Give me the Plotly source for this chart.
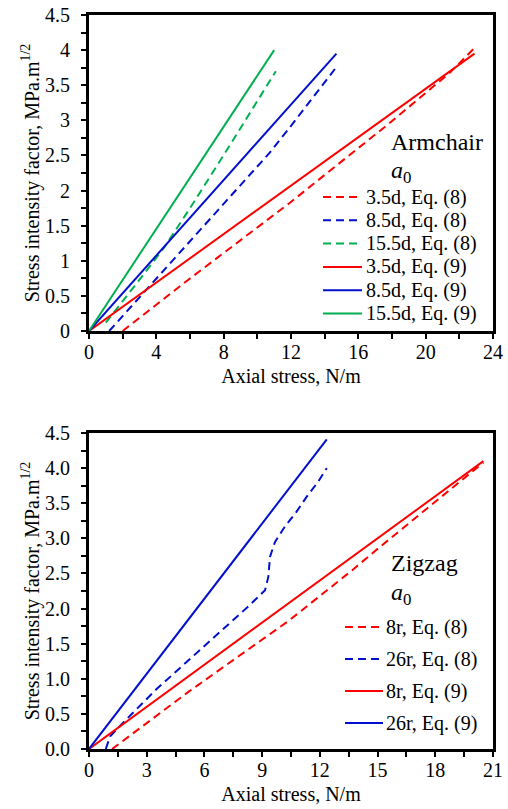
import plotly.graph_objects as go

W, H = 508, 809

# ---------------- data ----------------
# Armchair (top panel)
arm_35_eq8_x = [2.0, 5.9, 11.9, 14.85, 17.8, 21.4, 22.9]
arm_35_eq8_y = [0.0, 0.73, 1.82, 2.38, 2.95, 3.67, 4.03]
arm_85_eq8_x = [1.2, 5.9, 10.7, 11.9, 14.7]
arm_85_eq8_y = [0.0, 1.25, 2.53, 2.89, 3.76]
arm_155_eq8_x = [1.0, 2.0, 3.0, 4.5, 6.0, 8.2, 11.1]
arm_155_eq8_y = [0.12, 0.42, 0.73, 1.2, 1.75, 2.58, 3.70]
arm_35_eq9_x = [0.0, 22.9]
arm_35_eq9_y = [0.0, 3.95]
arm_85_eq9_x = [0.0, 14.7]
arm_85_eq9_y = [0.0, 3.95]
arm_155_eq9_x = [0.0, 11.0]
arm_155_eq9_y = [0.0, 4.0]
arm_labels = ["3.5d, Eq. (8)", "8.5d, Eq. (8)", "15.5d, Eq. (8)",
              "3.5d, Eq. (9)", "8.5d, Eq. (9)", "15.5d, Eq. (9)"]

# Zigzag (bottom panel)
zz_8_eq8_x = [1.2, 5.2, 10.4, 13.7, 15.0, 18.8, 20.5]
zz_8_eq8_y = [0.0, 0.82, 1.83, 2.55, 2.85, 3.70, 4.08]
zz_26_eq8_x = [0.87, 1.1, 1.9, 3.5, 5.2, 6.93, 8.28, 9.15, 9.32, 9.41, 9.67,
               10.19, 10.79, 11.31, 11.92, 12.36]
zz_26_eq8_y = [0.0, 0.18, 0.41, 0.85, 1.27, 1.69, 2.03, 2.26, 2.45, 2.74, 2.95,
               3.17, 3.38, 3.59, 3.81, 4.0]
zz_8_eq9_x = [0.0, 20.5]
zz_8_eq9_y = [0.0, 4.1]
zz_26_eq9_x = [0.0, 12.36]
zz_26_eq9_y = [0.0, 4.41]
zz_labels = ["8r, Eq. (8)", "26r, Eq. (8)", "8r, Eq. (9)", "26r, Eq. (9)"]

RED, BLUE, GREEN = "#FF0000", "#0010CC", "#00B050"
DASH = "8px,5px"
FONT = "Liberation Serif"

fig = go.Figure()

def add(x, y, color, dash, xa, ya):
    fig.add_trace(go.Scatter(x=x, y=y, mode="lines", xaxis=xa, yaxis=ya,
                             line=dict(color=color, width=2, dash=dash),
                             showlegend=False, hoverinfo="skip"))

arm_series = [
    (arm_35_eq8_x, arm_35_eq8_y, RED, DASH),
    (arm_85_eq8_x, arm_85_eq8_y, BLUE, DASH),
    (arm_155_eq8_x, arm_155_eq8_y, GREEN, DASH),
    (arm_35_eq9_x, arm_35_eq9_y, RED, "solid"),
    (arm_85_eq9_x, arm_85_eq9_y, BLUE, "solid"),
    (arm_155_eq9_x, arm_155_eq9_y, GREEN, "solid"),
]
zz_series = [
    (zz_8_eq8_x, zz_8_eq8_y, RED, DASH),
    (zz_26_eq8_x, zz_26_eq8_y, BLUE, DASH),
    (zz_8_eq9_x, zz_8_eq9_y, RED, "solid"),
    (zz_26_eq9_x, zz_26_eq9_y, BLUE, "solid"),
]
for x, y, c, d in arm_series:
    add(x, y, c, d, "x", "y")
for x, y, c, d in zz_series:
    add(x, y, c, d, "x2", "y2")

def px(xp):
    return xp / W

def py(yp):
    return 1 - yp / H

# plot areas (pixels)
L, R = 89, 493
T1, B1 = 15, 331
T2, B2 = 433, 749

minor_ticks = dict(ticks="outside", ticklen=5, tickwidth=2, tickcolor="black")
common_axis = dict(
    showline=True, linewidth=3, linecolor="black", mirror=True,
    ticks="outside", ticklen=5, tickwidth=2, tickcolor="black",
    showgrid=False, zeroline=False, automargin=False,
    tickfont=dict(family=FONT, size=20, color="black"),
)
xtitle = dict(text="Axial stress, N/m", font=dict(family=FONT, size=20, color="black"), standoff=7)
ytitle = dict(text="Stress intensity factor, MPa.m<sup>1/2</sup>",
              font=dict(family=FONT, size=20, color="black"), standoff=1)

fig.update_layout(
    width=W, height=H,
    autosize=False,
    margin=dict(l=0, r=0, t=0, b=0, pad=0, autoexpand=False),
    paper_bgcolor="white", plot_bgcolor="white",
    font=dict(family=FONT, color="black"),
    showlegend=False,
    xaxis=dict(domain=[px(L), px(R)], anchor="y", range=[0, 24], dtick=4, tick0=0,
               minor=dict(dtick=2, **minor_ticks), title=xtitle, ticklabelstandoff=-4,
               **common_axis),
    yaxis=dict(domain=[py(B1), py(T1)], anchor="x", range=[0, 4.5], dtick=0.5, tick0=0,
               minor=dict(dtick=0.25, **minor_ticks), title=ytitle, ticklabelstandoff=7,
               **common_axis),
    xaxis2=dict(domain=[px(L), px(R)], anchor="y2", range=[0, 21], dtick=3, tick0=0,
                minor=dict(dtick=1.5, **minor_ticks), title=xtitle, ticklabelstandoff=-4,
                **common_axis),
    yaxis2=dict(domain=[py(B2), py(T2)], anchor="x2", range=[0, 4.5], dtick=0.5, tick0=0,
                tickformat=".1f", minor=dict(dtick=0.25, **minor_ticks), title=ytitle,
                ticklabelstandoff=7, **common_axis),
)

# ---------------- custom legends ----------------
shapes = []
annos = []

def legend_block(title, title_y, a0_y, labels, series, y0, dy, lx0, lx1, tx):
    annos.append(dict(text=title, x=px(389), y=py(title_y), xref="paper", yref="paper",
                      xanchor="left", yanchor="middle", showarrow=False,
                      font=dict(family=FONT, size=24, color="black")))
    annos.append(dict(text="<i>a</i><sub>0</sub>", x=px(389), y=py(a0_y), xref="paper",
                      yref="paper", xanchor="left", yanchor="middle", showarrow=False,
                      font=dict(family=FONT, size=24, color="black")))
    for i, (lab, s) in enumerate(zip(labels, series)):
        yy = y0 + i * dy
        shapes.append(dict(type="line", xref="paper", yref="paper",
                           x0=px(lx0), x1=px(lx1), y0=py(yy), y1=py(yy),
                           line=dict(color=s[2], width=2, dash=s[3])))
        annos.append(dict(text=lab, x=px(tx), y=py(yy), xref="paper", yref="paper",
                          xanchor="left", yanchor="middle", showarrow=False,
                          font=dict(family=FONT, size=20, color="black")))

legend_block("Armchair", 141.5, 172, arm_labels, arm_series, 197, 23.3, 323, 362, 364)
legend_block("Zigzag", 563, 594, zz_labels, zz_series, 627, 32, 345, 383, 384)

fig.update_layout(shapes=shapes, annotations=annos)

fig.write_html("out.html", config={"displayModeBar": False},
               post_script="document.body.style.margin='0';document.body.style.overflow='hidden';")
